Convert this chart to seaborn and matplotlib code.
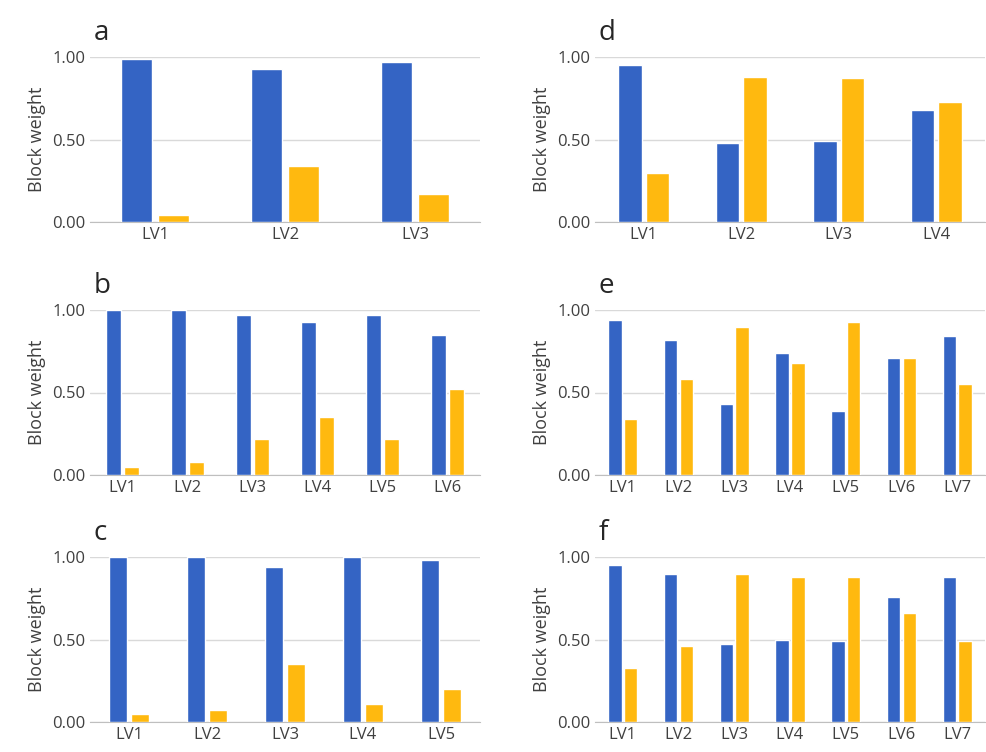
import numpy as np
import pandas as pd
import matplotlib
matplotlib.use("Agg")
import matplotlib.pyplot as plt
import seaborn as sns

sns.set_style("white")
plt.rcParams['font.family'] = ['Open Sans', 'DejaVu Sans']

# 패널별 데이터 (blue, yellow)
a_blue = [0.99, 0.93, 0.97]
a_yellow = [0.04, 0.34, 0.17]
b_blue = [1.00, 1.00, 0.97, 0.93, 0.97, 0.85]
b_yellow = [0.05, 0.08, 0.22, 0.35, 0.22, 0.52]
c_blue = [1.00, 1.00, 0.94, 1.00, 0.98]
c_yellow = [0.05, 0.07, 0.35, 0.11, 0.20]
d_blue = [0.95, 0.48, 0.49, 0.68]
d_yellow = [0.30, 0.88, 0.87, 0.73]
e_blue = [0.94, 0.82, 0.43, 0.74, 0.39, 0.71, 0.84]
e_yellow = [0.34, 0.58, 0.90, 0.68, 0.93, 0.71, 0.55]
f_blue = [0.95, 0.90, 0.47, 0.50, 0.49, 0.76, 0.88]
f_yellow = [0.33, 0.46, 0.90, 0.88, 0.88, 0.66, 0.49]

panels = [("a", a_blue, a_yellow), ("b", b_blue, b_yellow), ("c", c_blue, c_yellow),
          ("d", d_blue, d_yellow), ("e", e_blue, e_yellow), ("f", f_blue, f_yellow)]

W, H = 987, 752
fig = plt.figure(figsize=(9.87, 7.52), dpi=100)
lefts = [90, 595]
tops = [57, 310, 557]
ph, pw = 165, 390

for i, (letter, blue, yellow) in enumerate(panels):
    col, row = i // 3, i % 3
    ax = fig.add_axes([lefts[col] / W, 1 - (tops[row] + ph) / H, pw / W, ph / H])
    n = len(blue)
    cats = ["LV%d" % (k + 1) for k in range(n)]
    df = pd.DataFrame({"lv": cats * 2, "w": blue + yellow,
                       "s": ["blue"] * n + ["yellow"] * n})
    sns.barplot(data=df, x="lv", y="w", hue="s", palette=["#3464C4", "#FFB90F"],
                width=0.56, gap=0.14, legend=False, ax=ax, saturation=1, zorder=3)
    ax.set_ylim(0, 1.0)
    ax.set_yticks([0, 0.5, 1.0])
    ax.set_yticklabels(["0.00", "0.50", "1.00"])
    ax.yaxis.grid(True, color="#d9d9d9", lw=1, zorder=0)
    for s in ["top", "right", "left"]:
        ax.spines[s].set_visible(False)
    ax.spines["bottom"].set_color("#bfbfbf")
    ax.tick_params(length=0, labelsize=12, colors="#404040")
    ax.set_xlabel("")
    ax.set_ylabel("Block weight", fontsize=13, color="#404040")
    ax.text(0.01, 1.06, letter, transform=ax.transAxes, fontsize=20, va="bottom")

plt.savefig("out.png", dpi=100)
